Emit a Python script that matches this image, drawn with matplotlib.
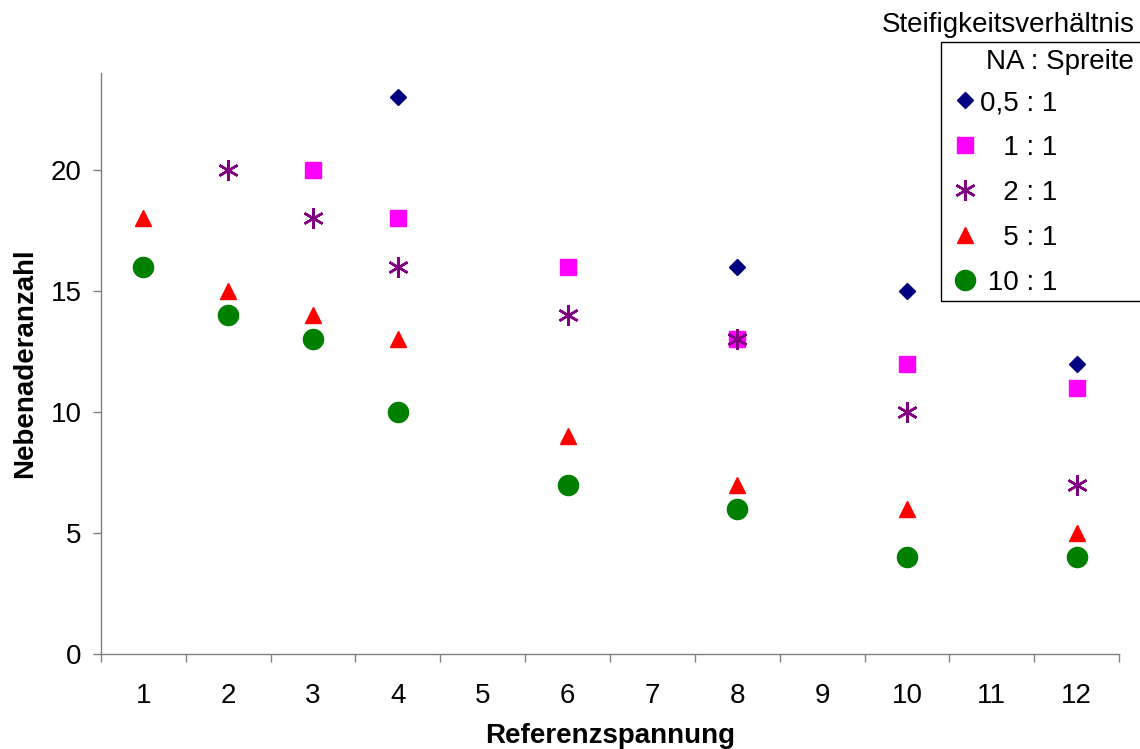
import matplotlib
matplotlib.use("Agg")
import matplotlib.pyplot as plt
from matplotlib.patches import Rectangle
import numpy as np

plt.rcParams['font.family'] = ['Liberation Sans', 'DejaVu Sans']

categories = ["1", "2", "3", "4", "5", "6", "7", "8", "9", "10", "11", "12"]

s05_x = ["4", "8", "10", "12"]
s05_y = [23, 16, 15, 12]
s1_x = ["3", "4", "6", "8", "10", "12"]
s1_y = [20, 18, 16, 13, 12, 11]
s2_x = ["2", "3", "4", "6", "8", "10", "12"]
s2_y = [20, 18, 16, 14, 13, 10, 7]
s5_x = ["1", "2", "3", "4", "6", "8", "10", "12"]
s5_y = [18, 15, 14, 13, 9, 7, 6, 5]
s10_x = ["1", "2", "3", "4", "6", "8", "10", "12"]
s10_y = [16, 14, 13, 10, 7, 6, 4, 4]

labels = ["0,5 : 1", "   1 : 1", "   2 : 1", "   5 : 1", " 10 : 1"]
yticks = [0, 5, 10, 15, 20]

FS = 20

fig = plt.figure(figsize=(11.4, 7.49), dpi=100)
ax = fig.add_axes([101/1140, 1-654/749, (1119-101)/1140, (654-73)/749])

pos = {c: i + 1 for i, c in enumerate(categories)}

def px(xs):
    return [pos[c] for c in xs]

h1, = ax.plot(px(s05_x), s05_y, ls='none', marker='D', ms=8, color='#000080', label=labels[0])
h2, = ax.plot(px(s1_x), s1_y, ls='none', marker='s', ms=11, color='#FF00FF', label=labels[1])
h3, = ax.plot(px(s2_x), s2_y, ls='none', marker=(6, 2, 0), ms=15, mew=1.8,
              color='#800080', mec='#800080', label=labels[2])
h4, = ax.plot(px(s5_x), s5_y, ls='none', marker='^', ms=12, color='#FF0000', label=labels[3])
h5, = ax.plot(px(s10_x), s10_y, ls='none', marker='o', ms=14.5, color='#008000', label=labels[4])

ax.set_xlim(0.5, 12.5)
ax.set_ylim(0, 24)
ax.set_xticks(range(1, 13))
ax.set_xticklabels(categories)
ax.set_xticks(np.arange(0.5, 12.6, 1), minor=True)
ax.tick_params(axis='x', which='major', length=0, pad=21, labelsize=FS)
ax.tick_params(axis='x', which='minor', length=6, color='#808080', width=1)
ax.set_yticks(yticks)
ax.tick_params(axis='y', which='major', length=6, color='#808080', width=1, labelsize=FS, pad=8)

for s in ['top', 'right']:
    ax.spines[s].set_visible(False)
for s in ['left', 'bottom']:
    ax.spines[s].set_color('#808080')
    ax.spines[s].set_linewidth(1)

ax.set_xlabel("Referenzspannung", fontsize=FS, fontweight='bold', labelpad=10)
ax.set_ylabel("Nebenaderanzahl", fontsize=FS, fontweight='bold', labelpad=9)

leg = fig.legend(handles=[h1, h2, h3, h4, h5], loc='upper left',
                 bbox_to_anchor=(954/1140, 1-90/749),
                 fontsize=FS, frameon=False, handlelength=0.8, handletextpad=0.15,
                 labelspacing=0.68, borderpad=0, borderaxespad=0)

fig.patches.append(Rectangle((941/1140, 1-301/749), 220/1140, (301-42)/749,
                             transform=fig.transFigure, fill=False,
                             edgecolor='black', linewidth=1, figure=fig))

fig.text(1135/1140, 1-25/749, "Steifigkeitsverhältnis", ha='right', va='center', fontsize=FS)
fig.text(1134/1140, 1-62/749, "NA : Spreite", ha='right', va='center', fontsize=FS)

fig.savefig("out.png", dpi=100)
